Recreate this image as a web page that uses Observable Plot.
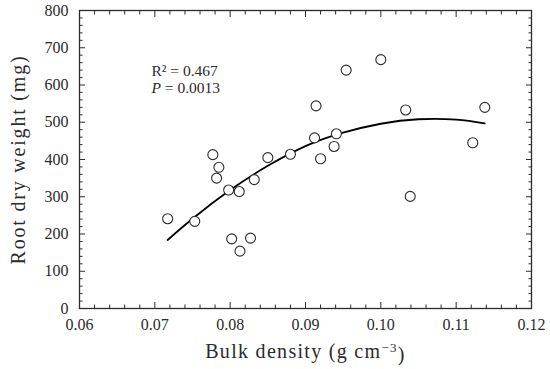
<!DOCTYPE html>
<html>
<head>
<meta charset="utf-8">
<script src="https://cdn.jsdelivr.net/npm/d3@7"></script>
<script src="https://cdn.jsdelivr.net/npm/@observablehq/plot@0.6"></script>
<style>
  html, body { margin: 0; padding: 0; background: #fff; }
</style>
</head>
<body>
<div id="chart"></div>
<script>
// Observed data points (bulk density, root dry weight)
const bulkDensity = [0.0717, 0.0753, 0.0777, 0.0785, 0.0782, 0.0798, 0.0812, 0.0802, 0.0827, 0.0813, 0.0832, 0.0850,
                     0.0880, 0.0912, 0.0914, 0.0920, 0.0938, 0.0941, 0.0954, 0.1000, 0.1033, 0.1039, 0.1122, 0.1138];
const rootWeight  = [241, 234, 413, 379, 350, 318, 314, 187, 189, 154, 346, 405,
                     414, 458, 544, 402, 435, 469, 640, 668, 533, 301, 445, 540];

// Fitted curve
const fitX = [0.0717, 0.075, 0.080, 0.085, 0.090, 0.095, 0.100, 0.105, 0.110, 0.1138];
const fitY = [184, 241, 318, 383, 436, 472, 496, 508, 507, 497];

// Ticks
const xTicks = [0.06, 0.07, 0.08, 0.09, 0.10, 0.11, 0.12];
const xMinor = [0.062, 0.064, 0.066, 0.068, 0.072, 0.074, 0.076, 0.078, 0.082, 0.084, 0.086, 0.088,
                0.092, 0.094, 0.096, 0.098, 0.102, 0.104, 0.106, 0.108, 0.112, 0.114, 0.116, 0.118];
const yTicks = [0, 100, 200, 300, 400, 500, 600, 700, 800];
const yMinor = [20, 40, 60, 80, 120, 140, 160, 180, 220, 240, 260, 280, 320, 340, 360, 380,
                420, 440, 460, 480, 520, 540, 560, 580, 620, 640, 660, 680, 720, 740, 760, 780];

const xTitle = "Bulk density (g cm\u22123)";
const yTitle = "Root dry weight (mg)";
const noteLines = ["R\u00b2 = 0.467", "P = 0.0013"];

const points = bulkDensity.map((x, i) => ({x, y: rootWeight[i]}));
const fit = fitX.map((x, i) => ({x, y: fitY[i]}));

const ink = "#2b2b2b";
const serif = "'Liberation Serif', serif";
const tickFont = {fontSize: 16, fontFamily: serif};
const chart = Plot.plot({
  width: 550,
  height: 369,
  marginLeft: 79,
  marginRight: 19,
  marginTop: 10,
  marginBottom: 61,
  style: {fontFamily: serif, fontSize: "16px", color: ink, background: "#fff"},
  x: {domain: [0.06, 0.12]},
  y: {domain: [0, 800]},
  marks: [
    // tick labels
    Plot.axisX(xTicks, {anchor: "bottom", tickSize: 0, tickPadding: 10, tickFormat: d3.format(".2f"), label: null, fill: ink, ...tickFont}),
    Plot.axisY(yTicks, {anchor: "left", tickSize: 0, tickPadding: 11, tickFormat: d3.format("d"), label: null, fill: ink, ...tickFont}),
    // inward ticks (major)
    Plot.axisX(xTicks, {anchor: "bottom", tickSize: -6, tickFormat: () => "", label: null, stroke: ink}),
    Plot.axisX(xTicks, {anchor: "top", tickSize: -6, tickFormat: () => "", label: null, stroke: ink}),
    Plot.axisY(yTicks, {anchor: "left", tickSize: -6, tickFormat: () => "", label: null, stroke: ink}),
    Plot.axisY(yTicks, {anchor: "right", tickSize: -6, tickFormat: () => "", label: null, stroke: ink}),
    // inward ticks (minor)
    Plot.axisX(xMinor, {anchor: "bottom", tickSize: -3.5, tickFormat: () => "", label: null, stroke: ink}),
    Plot.axisX(xMinor, {anchor: "top", tickSize: -3.5, tickFormat: () => "", label: null, stroke: ink}),
    Plot.axisY(yMinor, {anchor: "left", tickSize: -3.5, tickFormat: () => "", label: null, stroke: ink}),
    Plot.axisY(yMinor, {anchor: "right", tickSize: -3.5, tickFormat: () => "", label: null, stroke: ink}),
    Plot.frame({stroke: ink, strokeWidth: 1.3}),
    // fitted curve
    Plot.line(fit, {x: "x", y: "y", curve: "natural", stroke: "#000", strokeWidth: 1.8}),
    // points
    Plot.dot(points, {x: "x", y: "y", r: 5, fill: "#fff", stroke: ink, strokeWidth: 1.1}),
    // annotation
    Plot.text([noteLines[0]], {frameAnchor: "top-left", dx: 72, dy: 65, textAnchor: "start", lineAnchor: "bottom", fontSize: 15.5, fontFamily: serif, fill: ink}),
    Plot.text([noteLines[1]], {frameAnchor: "top-left", dx: 72, dy: 82, textAnchor: "start", lineAnchor: "bottom", fontSize: 15.5, fontFamily: serif, fill: ink}),
    // axis titles
    Plot.text([xTitle], {frameAnchor: "bottom", dy: 49, textAnchor: "middle", lineAnchor: "bottom", fontSize: 20, fontFamily: serif, fill: ink}),
    Plot.text([yTitle], {frameAnchor: "left", dx: -61, textAnchor: "middle", lineAnchor: "middle", rotate: -90, fontSize: 20, fontFamily: serif, fill: ink})
  ]
});

// typographic touches: italic P, superscript in unit, wider title spacing
d3.select(chart).selectAll("text").each(function() {
  const t = d3.select(this);
  const s = t.text();
  if (s === noteLines[1]) {
    t.text(null);
    t.append("tspan").attr("font-style", "italic").text("P");
    t.append("tspan").text(" = 0.0013");
  } else if (s === xTitle) {
    t.attr("letter-spacing", "1.3px");
    t.text(null);
    t.append("tspan").text("Bulk density (g cm");
    t.append("tspan").attr("dy", "-0.45em").attr("font-size", "0.65em").text("\u22123");
    t.append("tspan").attr("dy", "0.45em").text(")");
  } else if (s === yTitle) {
    t.attr("letter-spacing", "1.8px");
  }
});

document.getElementById("chart").appendChild(chart);
</script>
</body>
</html>
